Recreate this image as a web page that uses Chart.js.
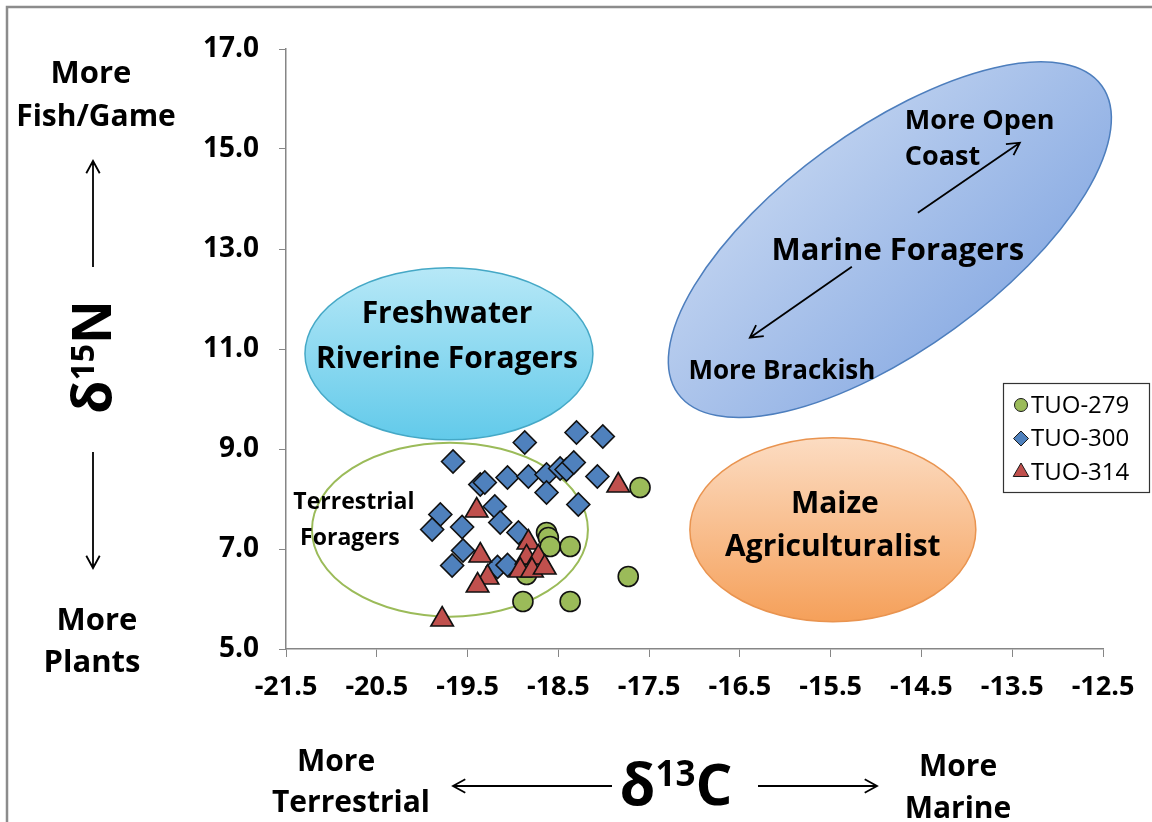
<!DOCTYPE html>
<html><head><meta charset="utf-8">
<script src="https://cdn.jsdelivr.net/npm/chart.js@4.4.0/dist/chart.umd.min.js"></script>
<style>html,body{margin:0;padding:0;background:#fff;overflow:hidden}canvas{display:block}</style>
</head><body>
<canvas id="c" width="1152" height="822" style="width:1152px;height:822px"></canvas>
<script>
// ---- data ----
const seriesNames = ['TUO-279', 'TUO-300', 'TUO-314'];
const xTicks = [-21.5, -20.5, -19.5, -18.5, -17.5, -16.5, -15.5, -14.5, -13.5, -12.5];
const yTicks = [5, 7, 9, 11, 13, 15, 17];

const tuo279X = [-17.60, -18.63, -18.61, -18.59, -18.37, -18.85, -17.73, -18.89, -18.37];
const tuo279Y = [8.23, 7.33, 7.23, 7.05, 7.05, 6.49, 6.45, 5.95, 5.95];

const tuo300X = [-19.66, -18.87, -18.30, -18.01, -19.36, -19.31, -19.06, -18.83, -18.63, -18.48, -18.41, -18.33, -18.07,
                 -18.63, -18.28, -19.20, -19.14, -19.80, -19.89, -19.56, -18.94, -19.55, -19.67, -19.17, -19.06];
const tuo300Y = [8.75, 9.13, 9.33, 9.25, 8.29, 8.33, 8.43, 8.45, 8.49, 8.61, 8.59, 8.73, 8.45,
                 8.13, 7.89, 7.85, 7.53, 7.69, 7.39, 7.44, 7.33, 6.97, 6.67, 6.64, 6.68];

const tuo314X = [-17.84, -19.40, -18.83, -19.36, -18.85, -18.72, -18.92, -18.79, -18.65, -19.28, -19.39, -19.78];
const tuo314Y = [8.27, 7.77, 7.13, 6.87, 6.83, 6.83, 6.57, 6.57, 6.63, 6.43, 6.27, 5.59];

const pts = (xs, ys) => xs.map((v, i) => ({x: v, y: ys[i]}));

const FONT = '"Open Sans", "DejaVu Sans", sans-serif';

function txt(ctx, s, x, y, size, align, weight) {
  ctx.save();
  ctx.font = (weight || 'bold') + ' ' + size + 'px ' + FONT;
  ctx.fillStyle = '#000';
  ctx.textAlign = align || 'center';
  ctx.textBaseline = 'middle';
  ctx.fillText(s, x, y);
  ctx.restore();
}
function arrow(ctx, x1, y1, x2, y2) {
  ctx.save();
  ctx.strokeStyle = '#000';
  ctx.lineWidth = 1.8;
  ctx.beginPath();
  ctx.moveTo(x1, y1); ctx.lineTo(x2, y2);
  const a = Math.atan2(y2 - y1, x2 - x1), L = 14, w = 0.5;
  ctx.moveTo(x2 - L * Math.cos(a - w), y2 - L * Math.sin(a - w));
  ctx.lineTo(x2, y2);
  ctx.lineTo(x2 - L * Math.cos(a + w), y2 - L * Math.sin(a + w));
  ctx.stroke();
  ctx.restore();
}
function deltaLabel(ctx, sup, letter, cx, cy, big, rot) {
  ctx.save();
  ctx.translate(cx, cy);
  if (rot) ctx.rotate(rot);
  ctx.fillStyle = '#000';
  ctx.textBaseline = 'alphabetic';
  ctx.textAlign = 'left';
  const fb = 'bold ' + big + 'px ' + FONT, fs = 'bold ' + Math.round(big * 0.6) + 'px ' + FONT;
  ctx.font = fb; const w1 = ctx.measureText('δ').width, w3 = ctx.measureText(letter).width;
  ctx.font = fs; const w2 = ctx.measureText(sup).width;
  let x = -(w1 + w2 + w3) / 2; const base = big * 0.36;
  ctx.font = fb; ctx.fillText('δ', x, base); x += w1;
  ctx.font = fs; ctx.fillText(sup, x, base - big * 0.33); x += w2;
  ctx.font = fb; ctx.fillText(letter, x, base);
  ctx.restore();
}
function ell(ctx, cx, cy, rx, ry, rot, fill, stroke, lw) {
  ctx.save();
  ctx.beginPath();
  ctx.ellipse(cx, cy, rx, ry, rot, 0, Math.PI * 2);
  if (fill) { ctx.fillStyle = fill; ctx.fill(); }
  ctx.strokeStyle = stroke; ctx.lineWidth = lw; ctx.stroke();
  ctx.restore();
}

const decor = {
  id: 'decor',
  beforeDatasetsDraw(chart) {
    const ctx = chart.ctx, xs = chart.scales.x, ys = chart.scales.y;
    const px = v => xs.getPixelForValue(v), py = v => ys.getPixelForValue(v);
    const ux = xs.width / (xs.max - xs.min), uy = ys.height / (ys.max - ys.min);
    // Freshwater Riverine Foragers
    let cx = px(-19.705), cy = py(10.906), rx = 1.586 * ux, ry = 1.72 * uy;
    let g = ctx.createLinearGradient(0, cy - ry, 0, cy + ry);
    g.addColorStop(0, '#b7e8f7'); g.addColorStop(1, '#62caea');
    ell(ctx, cx, cy, rx, ry, 0, g, '#45a8c6', 1.5);
    txt(ctx, 'Freshwater', cx - 2, cy - 39, 30);
    txt(ctx, 'Riverine Foragers', cx - 2, cy + 6, 30);
    // Terrestrial Foragers
    cx = px(-19.694); cy = py(7.386); rx = 1.52 * ux; ry = 1.74 * uy;
    ell(ctx, cx, cy, rx, ry, 0, null, '#9bbb59', 2);
    txt(ctx, 'Terrestrial', cx - 96, cy - 27, 23);
    txt(ctx, 'Foragers', cx - 100, cy + 9, 23);
    // Maize Agriculturalist
    cx = px(-15.476); cy = py(7.386); rx = 1.575 * ux; ry = 1.84 * uy;
    g = ctx.createLinearGradient(0, cy - ry, 0, cy + ry);
    g.addColorStop(0, '#fcdcc2'); g.addColorStop(1, '#f5a05a');
    ell(ctx, cx, cy, rx, ry, 0, g, '#e99450', 1.5);
    txt(ctx, 'Maize', cx + 2, cy - 25, 30);
    txt(ctx, 'Agriculturalist', cx, cy + 18, 30);
    // Marine Foragers
    cx = px(-14.848); cy = py(13.186);
    const a = 2.885 * ux, b = 2.2 * uy, rot = -36 * Math.PI / 180;
    g = ctx.createLinearGradient(cx - 150, cy - 150, cx + 150, cy + 150);
    g.addColorStop(0, '#cddcf3'); g.addColorStop(1, '#7ea3e0');
    ell(ctx, cx, cy, a, b, rot, g, '#4d7ebd', 1.5);
    txt(ctx, 'Marine Foragers', cx + 8, cy + 11, 31);
    txt(ctx, 'More Open', cx + 15, cy - 118, 27, 'left');
    txt(ctx, 'Coast', cx + 15, cy - 82, 27, 'left');
    txt(ctx, 'More Brackish', cx - 108, cy + 132, 26);
    arrow(ctx, cx + 28, cy - 27, cx + 130, cy - 97);
    arrow(ctx, cx - 38, cy + 27, cx - 140, cy + 98);
  },
  afterDraw(chart) {
    const ctx = chart.ctx;
    // frame
    ctx.save();
    ctx.strokeStyle = '#8c8c8c'; ctx.lineWidth = 2.5;
    ctx.beginPath(); ctx.moveTo(7, 822); ctx.lineTo(7, 7); ctx.lineTo(1152, 7); ctx.stroke();
    ctx.restore();
    // left annotation
    txt(ctx, 'More', 91, 74, 31);
    txt(ctx, 'Fish/Game', 96, 117, 30);
    arrow(ctx, 93, 267, 93, 161);
    deltaLabel(ctx, '15', 'N', 92, 357, 54, -Math.PI / 2);
    arrow(ctx, 93, 452, 93, 568);
    txt(ctx, 'More', 97, 621, 31);
    txt(ctx, 'Plants', 92, 663, 31);
    // bottom annotation
    txt(ctx, 'More', 336, 762, 30);
    txt(ctx, 'Terrestrial', 351, 803, 30);
    arrow(ctx, 612, 786, 453, 786);
    deltaLabel(ctx, '13', 'C', 676, 784, 58, 0);
    arrow(ctx, 758, 786, 877, 786);
    txt(ctx, 'More', 958, 767, 30);
    txt(ctx, 'Marine', 958, 809, 30);
    // legend
    ctx.save();
    ctx.fillStyle = '#fff'; ctx.fillRect(1003, 383, 146, 109);
    ctx.strokeStyle = '#333'; ctx.lineWidth = 1.2; ctx.strokeRect(1003.5, 383.5, 146, 109);
    chart.data.datasets.forEach((ds, i) => {
      const yy = 405 + i * 33.5;
      ctx.fillStyle = ds.backgroundColor; ctx.strokeStyle = '#1a1a1a'; ctx.lineWidth = 1;
      Chart.helpers.drawPoint(ctx, {pointStyle: ds.pointStyle, radius: ds.legendRadius, rotation: 0, borderWidth: 1}, 1021, yy);
      txt(ctx, ds.label, 1031, yy + 1, 24, 'left', 'normal');
    });
    ctx.restore();
  }
};

new Chart(document.getElementById('c'), {
  type: 'scatter',
  data: {
    datasets: [
      {label: seriesNames[0], data: pts(tuo279X, tuo279Y), pointStyle: 'circle', pointRadius: 10, legendRadius: 6.5,
       backgroundColor: '#9bbb59', borderColor: '#111', borderWidth: 1.6, order: 3},
      {label: seriesNames[1], data: pts(tuo300X, tuo300Y), pointStyle: 'rectRot', pointRadius: 11.5, legendRadius: 7.5,
       backgroundColor: '#4f81bd', borderColor: '#111', borderWidth: 1.6, order: 2},
      {label: seriesNames[2], data: pts(tuo314X, tuo314Y), pointStyle: 'triangle', pointRadius: 13, legendRadius: 9,
       backgroundColor: '#c0504d', borderColor: '#111', borderWidth: 1.6, order: 1}
    ]
  },
  options: {
    responsive: false, animation: false, devicePixelRatio: 1,
    layout: {padding: {top: 49, right: 49, left: 0, bottom: 0}},
    plugins: {legend: {display: false}, tooltip: {enabled: false}},
    scales: {
      x: {
        type: 'linear', min: xTicks[0], max: xTicks[xTicks.length - 1],
        afterBuildTicks: s => { s.ticks = xTicks.map(v => ({value: v})); },
        afterFit: s => { s.height = 173; },
        grid: {drawOnChartArea: false, tickLength: 8, color: '#868686'},
        border: {color: '#868686', width: 1.5},
        ticks: {padding: 14, color: '#000', font: {family: FONT, size: 27, weight: 'bold'}, callback: v => v.toFixed(1), maxRotation: 0}
      },
      y: {
        type: 'linear', min: yTicks[0], max: yTicks[yTicks.length - 1],
        afterBuildTicks: s => { s.ticks = yTicks.map(v => ({value: v})); },
        afterFit: s => { s.width = 286; },
        grid: {drawOnChartArea: false, tickLength: 7, color: '#868686'},
        border: {color: '#868686', width: 1.5},
        ticks: {padding: 20, color: '#000', font: {family: FONT, size: 28, weight: 'bold'}, callback: v => v.toFixed(1)}
      }
    }
  },
  plugins: [decor]
});
</script>
</body></html>
